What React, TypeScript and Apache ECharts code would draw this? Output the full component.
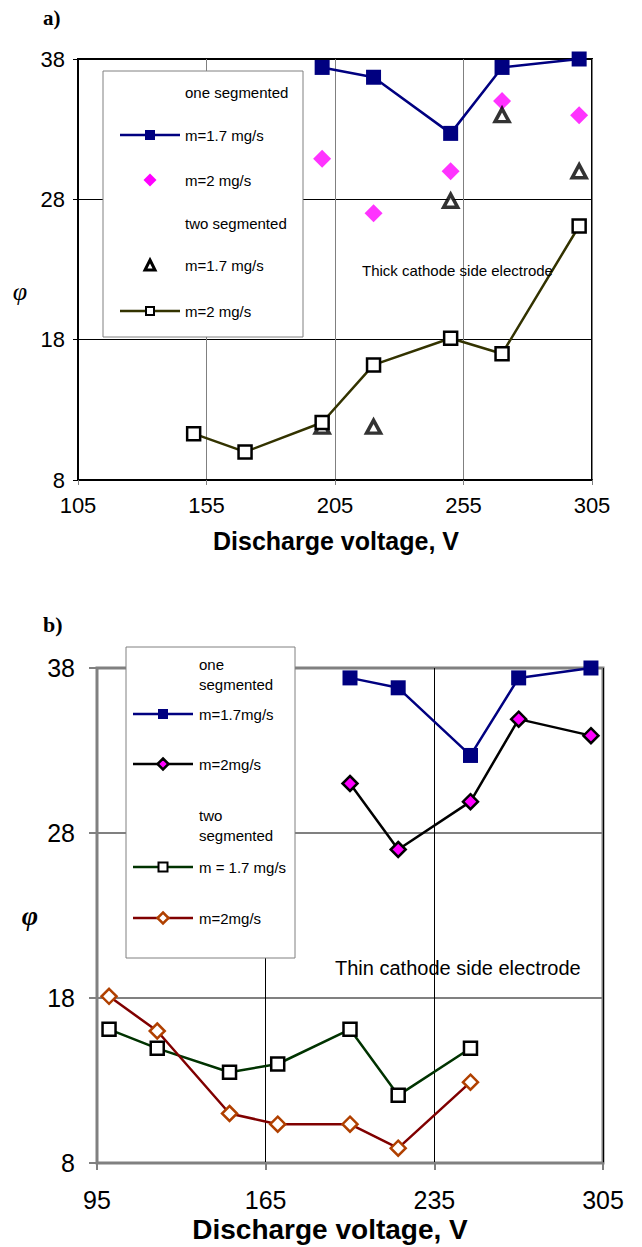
import React, { useEffect, useRef } from "react";
import * as echarts from "echarts";

// ---------- data (a) thick cathode side electrode ----------
const topOneVolts = [200, 220, 250, 270, 300];
const topOne17 = [37.4, 36.7, 32.7, 37.4, 38.0];
const topOne2 = [30.9, 27.0, 30.0, 35.0, 34.0];
const topTwo17Volts = [200, 220, 250, 270, 300];
const topTwo17 = [11.8, 11.8, 27.9, 34.0, 30.0];
const topTwo2Volts = [150, 170, 200, 220, 250, 270, 300];
const topTwo2 = [11.3, 10.0, 12.1, 16.2, 18.1, 17.0, 26.1];

// ---------- data (b) thin cathode side electrode ----------
const botOneVolts = [200, 220, 250, 270, 300];
const botOne17 = [37.4, 36.8, 32.7, 37.4, 38.0];
const botOne2 = [31.0, 27.0, 29.9, 34.9, 33.9];
const botTwoVolts = [100, 120, 150, 170, 200, 220, 250];
const botTwo17 = [16.1, 14.95, 13.5, 14.0, 16.1, 12.1, 14.95];
const botTwo2 = [18.1, 16.0, 11.0, 10.35, 10.35, 8.9, 12.9];

// ---------- axis ticks ----------
const topXTicks = [105, 155, 205, 255, 305];
const botXTicks = [95, 165, 235, 305];
const yTicks = [8, 18, 28, 38];

const zip = (xs: number[], ys: number[]) => xs.map((x, i) => [x, ys[i]]);

const NARROW = "'Liberation Sans Narrow', 'Arial Narrow', 'Liberation Sans', Arial, sans-serif";
const ARIAL = "'Liberation Sans', Arial, sans-serif";
const SERIF = "'Liberation Serif', 'Times New Roman', serif";

function txt(text: string, x: number, y: number, size: number, opts: any = {}) {
  return {
    type: "text",
    z: 110,
    style: {
      text,
      x,
      y,
      fill: "#000",
      fontSize: size,
      fontFamily: opts.family || ARIAL,
      fontWeight: opts.weight || "normal",
      fontStyle: opts.style || "normal",
      align: opts.align || "left",
      verticalAlign: "middle",
    },
  };
}
function lline(cx: number, cy: number, half: number, color: string, w: number) {
  return { type: "line", z: 105, shape: { x1: cx - half, y1: cy, x2: cx + half, y2: cy }, style: { stroke: color, lineWidth: w } };
}
function lsq(cx: number, cy: number, s: number, fill: string, stroke: string, lw: number) {
  return { type: "rect", z: 106, shape: { x: cx - s / 2, y: cy - s / 2, width: s, height: s }, style: { fill, stroke, lineWidth: lw } };
}
function ldia(cx: number, cy: number, s: number, fill: string, stroke: string, lw: number) {
  const h = s / 2;
  return {
    type: "polygon",
    z: 106,
    shape: { points: [[cx, cy - h], [cx + h, cy], [cx, cy + h], [cx - h, cy]] },
    style: { fill, stroke, lineWidth: lw },
  };
}
function ltri(cx: number, cy: number, s: number, stroke: string, lw: number) {
  const h = s / 2;
  return {
    type: "polygon",
    z: 106,
    shape: { points: [[cx, cy - h], [cx + h, cy + h], [cx - h, cy + h]] },
    style: { fill: "#fff", stroke, lineWidth: lw },
  };
}

export default function App() {
  const ref = useRef<HTMLDivElement>(null);
  useEffect(() => {
    if (!ref.current) return;
    const chart = echarts.init(ref.current, null, { renderer: "svg" });

    const NAVY = "#000080";
    const MAG = "#FF00FF";
    const OLIVE = "#333300";
    const GREEN = "#003300";
    const DRED = "#800000";
    const BROWN = "#B04000";

    const option: any = {
      animation: false,
      backgroundColor: "#fff",
      grid: [
        { left: 78, top: 59, width: 514, height: 421, show: true, borderColor: "#000", borderWidth: 2, backgroundColor: "transparent" },
        { left: 97, top: 668, width: 506, height: 495, show: true, borderColor: "#808080", borderWidth: 3, backgroundColor: "transparent" },
      ],
      xAxis: [
        {
          gridIndex: 0,
          type: "value",
          min: topXTicks[0],
          max: topXTicks[topXTicks.length - 1],
          interval: topXTicks[1] - topXTicks[0],
          axisLine: { show: true, lineStyle: { color: "#000", width: 2 } },
          axisTick: { show: true, length: 5, lineStyle: { color: "#808080", width: 1 } },
          axisLabel: { margin: 14, fontSize: 22, fontFamily: NARROW, color: "#000" },
          splitLine: { show: true, lineStyle: { color: "#808080", width: 1 } },
        },
        {
          gridIndex: 1,
          type: "value",
          min: botXTicks[0],
          max: botXTicks[botXTicks.length - 1],
          interval: botXTicks[1] - botXTicks[0],
          axisLine: { show: true, lineStyle: { color: "#808080", width: 2 } },
          axisTick: { show: true, length: 7, lineStyle: { color: "#808080", width: 2 } },
          axisLabel: { margin: 24, fontSize: 25, fontFamily: ARIAL, color: "#000" },
          splitLine: { show: true, lineStyle: { color: "#000", width: 1 } },
        },
      ],
      yAxis: [
        {
          gridIndex: 0,
          type: "value",
          min: yTicks[0],
          max: yTicks[yTicks.length - 1],
          interval: yTicks[1] - yTicks[0],
          axisLine: { show: true, lineStyle: { color: "#000", width: 2 } },
          axisTick: { show: true, length: 5, lineStyle: { color: "#000", width: 1 } },
          axisLabel: { margin: 13, fontSize: 22, fontFamily: NARROW, color: "#000" },
          splitLine: { show: true, lineStyle: { color: "#000", width: 1 } },
        },
        {
          gridIndex: 1,
          type: "value",
          min: yTicks[0],
          max: yTicks[yTicks.length - 1],
          interval: yTicks[1] - yTicks[0],
          axisLine: { show: true, lineStyle: { color: "#808080", width: 2 } },
          axisTick: { show: true, length: 8, lineStyle: { color: "#808080", width: 2 } },
          axisLabel: { margin: 22, fontSize: 25, fontFamily: ARIAL, color: "#000" },
          splitLine: { show: true, lineStyle: { color: "#808080", width: 2 } },
        },
      ],
      series: [
        // ---- top ----
        {
          type: "line", name: "a one 1.7", xAxisIndex: 0, yAxisIndex: 0,
          data: zip(topOneVolts, topOne17),
          lineStyle: { color: NAVY, width: 2.5 },
          symbol: "rect", symbolSize: 15, showSymbol: true,
          itemStyle: { color: NAVY, borderWidth: 0 },
        },
        {
          type: "scatter", name: "a one 2", xAxisIndex: 0, yAxisIndex: 0,
          data: zip(topOneVolts, topOne2),
          symbol: "diamond", symbolSize: 18,
          itemStyle: { color: MAG, borderWidth: 0 },
        },
        {
          type: "scatter", name: "a two 1.7", xAxisIndex: 0, yAxisIndex: 0,
          data: zip(topTwo17Volts, topTwo17),
          symbol: "triangle", symbolSize: [14, 13],
          itemStyle: { color: "#fff", borderColor: "#000", borderWidth: 3.5 },
        },
        {
          type: "line", name: "a two 2", xAxisIndex: 0, yAxisIndex: 0,
          data: zip(topTwo2Volts, topTwo2),
          lineStyle: { color: OLIVE, width: 2.5 },
          symbol: "rect", symbolSize: 13, showSymbol: true,
          itemStyle: { color: "#fff", borderColor: "#000", borderWidth: 2.5 },
        },
        // ---- bottom ----
        {
          type: "line", name: "b one 1.7", xAxisIndex: 1, yAxisIndex: 1,
          data: zip(botOneVolts, botOne17),
          lineStyle: { color: NAVY, width: 2.5 },
          symbol: "rect", symbolSize: 15, showSymbol: true,
          itemStyle: { color: NAVY, borderWidth: 0 },
        },
        {
          type: "line", name: "b one 2", xAxisIndex: 1, yAxisIndex: 1,
          data: zip(botOneVolts, botOne2),
          lineStyle: { color: "#000", width: 2.5 },
          symbol: "diamond", symbolSize: 15, showSymbol: true,
          itemStyle: { color: MAG, borderColor: "#000", borderWidth: 2.5 },
        },
        {
          type: "line", name: "b two 1.7", xAxisIndex: 1, yAxisIndex: 1,
          data: zip(botTwoVolts, botTwo17),
          lineStyle: { color: GREEN, width: 2.5 },
          symbol: "rect", symbolSize: 13, showSymbol: true,
          itemStyle: { color: "#fff", borderColor: "#000", borderWidth: 2.5 },
        },
        {
          type: "line", name: "b two 2", xAxisIndex: 1, yAxisIndex: 1,
          data: zip(botTwoVolts, botTwo2),
          lineStyle: { color: DRED, width: 2.5 },
          symbol: "diamond", symbolSize: 15, showSymbol: true,
          itemStyle: { color: "#fff", borderColor: BROWN, borderWidth: 2.5 },
        },
      ],
      graphic: [
        // panel labels
        txt("a)", 43, 18, 21, { family: SERIF, weight: "bold" }),
        txt("b)", 43, 624, 22, { family: SERIF, weight: "bold" }),
        // y axis symbols
        txt("φ", 20, 291, 26, { family: SERIF, style: "italic", align: "center" }),
        txt("φ", 30, 915, 28, { family: SERIF, style: "italic", weight: "bold", align: "center" }),
        // x axis titles
        txt("Discharge voltage, V", 336, 541, 25, { weight: "bold", align: "center" }),
        txt("Discharge voltage, V", 330, 1229, 28, { weight: "bold", align: "center" }),
        // annotations
        txt("Thick cathode side electrode", 362, 270, 15),
        txt("Thin cathode side electrode", 335, 968, 20),

        // ---- top legend ----
        { type: "rect", z: 100, shape: { x: 103, y: 71, width: 200, height: 266 }, style: { fill: "#fff", stroke: "#808080", lineWidth: 1 } },
        txt("one segmented", 185, 92, 15),
        lline(150, 135, 30, NAVY, 2.5),
        lsq(150, 135, 10, NAVY, NAVY, 0),
        txt("m=1.7 mg/s", 185, 135, 15),
        ldia(150, 180, 13, MAG, MAG, 0),
        txt("m=2 mg/s", 185, 180, 15),
        txt("two segmented", 185, 223, 15),
        ltri(150, 265, 10, "#000", 3),
        txt("m=1.7 mg/s", 185, 265, 15),
        lline(150, 311, 30, OLIVE, 2.5),
        lsq(150, 311, 8, "#fff", "#000", 2),
        txt("m=2 mg/s", 185, 311, 15),

        // ---- bottom legend ----
        { type: "rect", z: 100, shape: { x: 126, y: 647, width: 169, height: 311 }, style: { fill: "#fff", stroke: "#808080", lineWidth: 1 } },
        txt("one", 199, 664, 15),
        txt("segmented", 199, 684, 15),
        lline(163, 714, 30, NAVY, 2.5),
        lsq(163, 714, 10, NAVY, NAVY, 0),
        txt("m=1.7mg/s", 199, 714, 15),
        lline(163, 764, 30, "#000", 2.5),
        ldia(163, 764, 11, MAG, "#000", 2.5),
        txt("m=2mg/s", 199, 764, 15),
        txt("two", 199, 815, 15),
        txt("segmented", 199, 835, 15),
        lline(163, 867, 30, GREEN, 2.5),
        lsq(163, 867, 9, "#fff", "#000", 2),
        txt("m = 1.7 mg/s", 199, 867, 15),
        lline(163, 918, 30, DRED, 2.5),
        ldia(163, 918, 11, "#fff", BROWN, 2.5),
        txt("m=2mg/s", 199, 918, 15),
      ],
    };
    chart.setOption(option);
    return () => chart.dispose();
  }, []);

  return (
    <div
      ref={ref}
      style={{ position: "absolute", left: 0, top: 0, width: 642, height: 1247, background: "#fff" }}
    />
  );
}
